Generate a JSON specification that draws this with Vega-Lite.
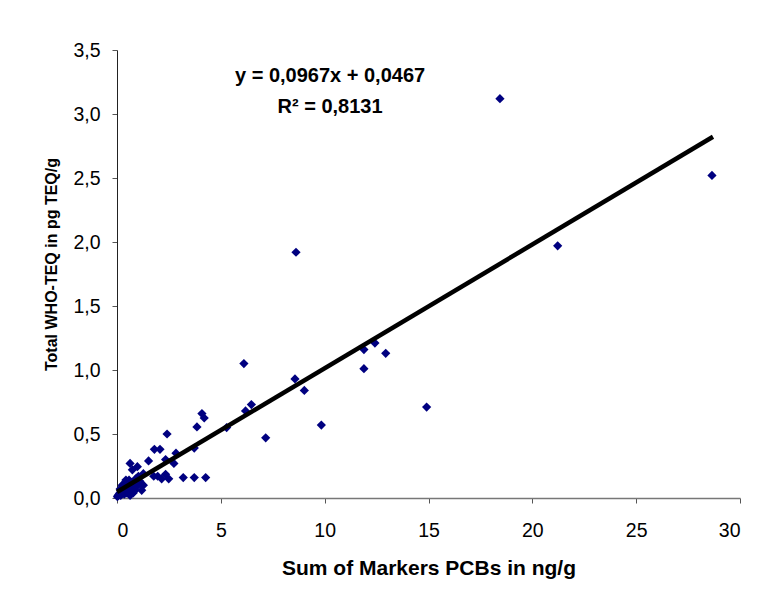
{
  "$schema": "https://vega.github.io/schema/vega-lite/v6.json",
  "width": 623,
  "height": 448,
  "autosize": {"type": "none"},
  "padding": {"left": 117, "top": 50, "right": 29, "bottom": 107},
  "background": "white",
  "config": {
    "view": {"stroke": null},
    "font": "Liberation Sans"
  },
  "datasets": {
    "pts": [
      {"pcb": 18.44, "teq": 3.12}, {"pcb": 28.65, "teq": 2.52}, {"pcb": 21.22, "teq": 1.97},
      {"pcb": 14.91, "teq": 0.71}, {"pcb": 8.62, "teq": 1.92}, {"pcb": 6.11, "teq": 1.05},
      {"pcb": 8.57, "teq": 0.93}, {"pcb": 9.02, "teq": 0.84}, {"pcb": 9.84, "teq": 0.57},
      {"pcb": 11.89, "teq": 1.16}, {"pcb": 12.42, "teq": 1.21}, {"pcb": 12.94, "teq": 1.13},
      {"pcb": 11.89, "teq": 1.01}, {"pcb": 6.47, "teq": 0.73}, {"pcb": 6.19, "teq": 0.68},
      {"pcb": 7.16, "teq": 0.47}, {"pcb": 5.28, "teq": 0.55}, {"pcb": 4.09, "teq": 0.66},
      {"pcb": 4.2, "teq": 0.625}, {"pcb": 3.85, "teq": 0.555}, {"pcb": 3.72, "teq": 0.39},
      {"pcb": 4.27, "teq": 0.16}, {"pcb": 3.72, "teq": 0.16}, {"pcb": 3.19, "teq": 0.16},
      {"pcb": 2.41, "teq": 0.5}, {"pcb": 2.07, "teq": 0.38}, {"pcb": 1.8, "teq": 0.38},
      {"pcb": 1.52, "teq": 0.29}, {"pcb": 2.34, "teq": 0.3}, {"pcb": 2.74, "teq": 0.27},
      {"pcb": 2.84, "teq": 0.35}, {"pcb": 1.77, "teq": 0.17}, {"pcb": 1.96, "teq": 0.17},
      {"pcb": 2.34, "teq": 0.185}, {"pcb": 2.49, "teq": 0.15}, {"pcb": 2.15, "teq": 0.15},
      {"pcb": 0.63, "teq": 0.27}, {"pcb": 0.74, "teq": 0.22}, {"pcb": 0.98, "teq": 0.245},
      {"pcb": 1.27, "teq": 0.19}, {"pcb": 1.17, "teq": 0.11}, {"pcb": 1.19, "teq": 0.06},
      {"pcb": 0.02, "teq": 0.01}, {"pcb": 0.05, "teq": 0.02}, {"pcb": 0.1, "teq": 0.03},
      {"pcb": 0.14, "teq": 0.04}, {"pcb": 0.18, "teq": 0.02}, {"pcb": 0.22, "teq": 0.05},
      {"pcb": 0.27, "teq": 0.06}, {"pcb": 0.3, "teq": 0.09}, {"pcb": 0.35, "teq": 0.03},
      {"pcb": 0.38, "teq": 0.06}, {"pcb": 0.43, "teq": 0.14}, {"pcb": 0.47, "teq": 0.04},
      {"pcb": 0.5, "teq": 0.08}, {"pcb": 0.54, "teq": 0.11}, {"pcb": 0.6, "teq": 0.05},
      {"pcb": 0.63, "teq": 0.02}, {"pcb": 0.68, "teq": 0.12}, {"pcb": 0.71, "teq": 0.075},
      {"pcb": 0.78, "teq": 0.04}, {"pcb": 0.85, "teq": 0.1}, {"pcb": 0.87, "teq": 0.06},
      {"pcb": 0.95, "teq": 0.09}, {"pcb": 1.03, "teq": 0.17}, {"pcb": 1.1, "teq": 0.13},
      {"pcb": 1.27, "teq": 0.1}, {"pcb": 0.4, "teq": 0.12}, {"pcb": 0.25, "teq": 0.1},
      {"pcb": 0.58, "teq": 0.14}, {"pcb": 0.9, "teq": 0.15}, {"pcb": 0.15, "teq": 0.07}
    ],
    "trend": [
      {"pcb": 0, "teq": 0.0467},
      {"pcb": 28.7, "teq": 2.822}
    ],
    "notes": [
      {"eq": "y = 0,0967x + 0,0467", "r2": "R² = 0,8131"}
    ]
  },
  "layer": [
    {
      "data": {"name": "pts"},
      "mark": {"type": "point", "shape": "diamond", "filled": true, "size": 85, "color": "#000080", "opacity": 1},
      "encoding": {
        "x": {
          "field": "pcb", "type": "quantitative",
          "scale": {"domain": [0, 30], "nice": false, "zero": true},
          "axis": {
            "title": "Sum of Markers PCBs in ng/g",
            "values": [0, 5, 10, 15, 20, 25, 30],
            "grid": false,
            "domainColor": "#777777", "domainWidth": 1.5,
            "tickColor": "#555555", "tickSize": 5, "tickWidth": 1,
            "labelFontSize": 19.5, "labelColor": "#000000", "labelPadding": 18,
            "labelFont": "Liberation Sans",
            "titleFont": "Liberation Sans", "titleFontSize": 21, "titleFontWeight": "bold", "titleColor": "#000000",
            "titleBaseline": "alphabetic", "titleY": 76, "titleX": 311.5, "titleAlign": "center"
          }
        },
        "y": {
          "field": "teq", "type": "quantitative",
          "scale": {"domain": [0, 3.5], "nice": false, "zero": true},
          "axis": {
            "title": "Total WHO-TEQ in pg TEQ/g",
            "values": [0, 0.5, 1, 1.5, 2, 2.5, 3, 3.5],
            "labelExpr": "replace(format(datum.value, '.1f'), '.', ',')",
            "grid": false,
            "domainColor": "#222222", "domainWidth": 1,
            "tickColor": "#555555", "tickSize": 5, "tickWidth": 1,
            "labelFontSize": 19.5, "labelColor": "#000000", "labelPadding": 12,
            "labelFont": "Liberation Sans",
            "titleFont": "Liberation Sans", "titleFontSize": 16, "titleFontWeight": "bold", "titleColor": "#000000",
            "titleAngle": -90, "titleBaseline": "alphabetic", "titleAlign": "center",
            "titleX": -61, "titleY": 214
          }
        }
      }
    },
    {
      "data": {"name": "trend"},
      "mark": {"type": "line", "color": "#000000", "strokeWidth": 4.5, "strokeCap": "butt"},
      "encoding": {
        "x": {"field": "pcb", "type": "quantitative"},
        "y": {"field": "teq", "type": "quantitative"}
      }
    },
    {
      "data": {"name": "notes"},
      "mark": {"type": "text", "font": "Liberation Sans", "fontSize": 20, "fontWeight": "bold", "align": "center", "baseline": "alphabetic", "color": "#000000"},
      "encoding": {
        "x": {"datum": 10.26, "type": "quantitative"},
        "y": {"datum": 3.25, "type": "quantitative"},
        "text": {"field": "eq"}
      }
    },
    {
      "data": {"name": "notes"},
      "mark": {"type": "text", "font": "Liberation Sans", "fontSize": 20, "fontWeight": "bold", "align": "center", "baseline": "alphabetic", "color": "#000000"},
      "encoding": {
        "x": {"datum": 10.26, "type": "quantitative"},
        "y": {"datum": 3.008, "type": "quantitative"},
        "text": {"field": "r2"}
      }
    }
  ]
}
